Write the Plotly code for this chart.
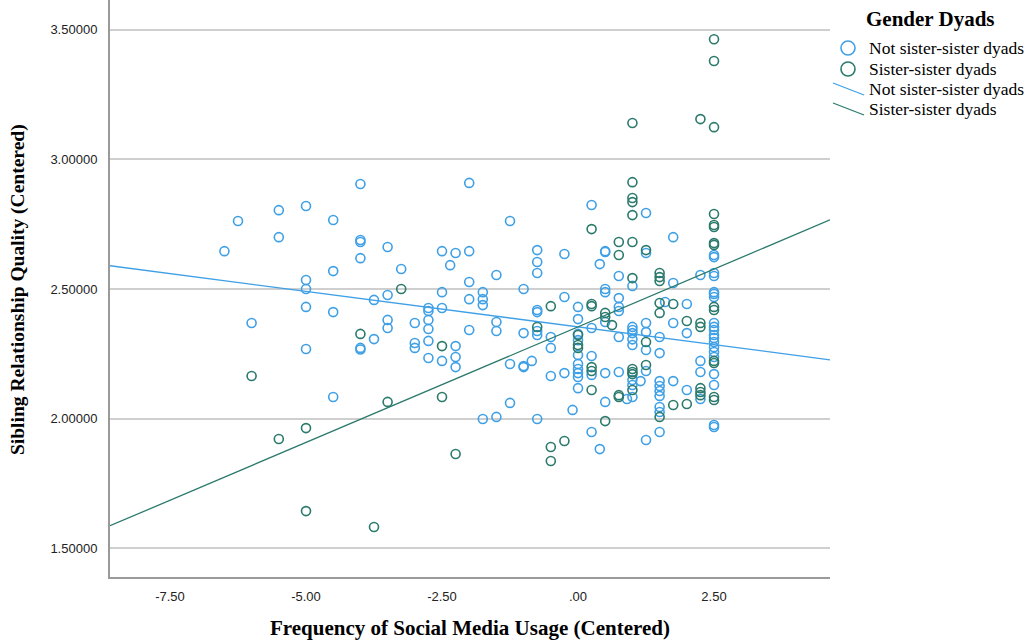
import plotly.graph_objects as go
import numpy as np

# ---- data ----
blue_cols = [-6.5, -6.25, -6, -5.5, -5, -4.5, -4, -3.75, -3.5, -3.25, -3, -2.75, -2.5, -2.35, -2.25,
             -2, -1.75, -1.5, -1.25, -1, -0.85, -0.75, -0.5, -0.25, -0.1, 0, 0.25, 0.4, 0.5, 0.75,
             0.9, 1, 1.15, 1.25, 1.5, 1.6, 1.75, 2, 2.25, 2.5]
blue_vals = [
    [2.646], [2.762], [2.369], [2.804, 2.700], [2.820, 2.535, 2.500, 2.431, 2.269],
    [2.766, 2.569, 2.411, 2.084], [2.905, 2.689, 2.681, 2.619, 2.273, 2.267], [2.458, 2.307],
    [2.662, 2.477, 2.381, 2.350], [2.577], [2.369, 2.292, 2.273],
    [2.427, 2.415, 2.381, 2.346, 2.300, 2.234], [2.646, 2.488, 2.427, 2.223], [2.592],
    [2.639, 2.280, 2.238, 2.199], [2.909, 2.646, 2.527, 2.461, 2.342], [2.488, 2.461, 2.438, 1.999],
    [2.554, 2.373, 2.338, 2.007], [2.762, 2.211, 2.061], [2.500, 2.330, 2.203, 2.199], [2.223],
    [2.650, 2.604, 2.562, 2.419, 2.411, 2.338, 2.323, 1.999], [2.315, 2.273, 2.165],
    [2.635, 2.469, 2.176], [2.034],
    [2.431, 2.384, 2.327, 2.303, 2.246, 2.211, 2.192, 2.176, 2.161, 2.118],
    [2.824, 2.350, 2.242, 2.169, 1.949], [2.596, 1.883],
    [2.646, 2.643, 2.500, 2.488, 2.373, 2.176, 2.065], [2.550, 2.465, 2.431, 2.415, 2.315, 2.180],
    [2.076], [2.512, 2.354, 2.342, 2.330, 2.306, 2.284, 2.149, 2.130, 2.084], [2.145],
    [2.793, 2.639, 2.369, 2.334, 2.265, 2.184, 1.918],
    [2.315, 2.253, 2.145, 2.126, 2.107, 2.088, 2.045, 2.026, 1.949], [2.450],
    [2.700, 2.523, 2.369, 2.145], [2.442, 2.330, 2.111], [2.554, 2.223, 2.180, 2.076],
    [2.631, 2.623, 2.562, 2.550, 2.488, 2.481, 2.469, 2.369, 2.354, 2.342, 2.323, 2.311,
     2.296, 2.276, 2.257, 2.238, 2.172, 2.130, 1.976, 1.968],
]
teal_cols = [-6, -5.5, -5, -4, -3.75, -3.5, -3.25, -2.5, -2.25, -0.75, -0.5, -0.25, 0, 0.25, 0.5,
             0.625, 0.75, 1, 1.25, 1.5, 1.75, 2, 2.25, 2.5]
teal_vals = [
    [2.165], [1.922], [1.964, 1.644], [2.327], [1.583], [2.065], [2.500], [2.280, 2.084], [1.864],
    [2.354], [2.434, 1.891, 1.837], [1.914], [2.323, 2.284, 2.273],
    [2.731, 2.442, 2.434, 2.199, 2.184, 2.111], [2.408, 2.392, 1.991], [2.361],
    [2.681, 2.631, 2.091, 2.084],
    [3.140, 2.912, 2.851, 2.835, 2.785, 2.681, 2.542, 2.192, 2.180, 2.172, 2.111],
    [2.650, 2.296, 2.207], [2.562, 2.546, 2.531, 2.446, 2.408, 2.007], [2.442, 2.053],
    [2.377, 2.057], [3.155, 2.369, 2.354, 2.118, 2.103, 2.091],
    [3.463, 3.379, 3.124, 2.789, 2.747, 2.739, 2.677, 2.670, 2.431, 2.419, 2.223, 2.215, 2.084, 2.072],
]
group_names = ["Not sister-sister dyads", "Sister-sister dyads"]
fit_intercepts = [2.354, 2.354]
fit_slopes = [-0.0274, 0.0891]

x_tickvals = [-7.5, -5.0, -2.5, 0.0, 2.5]
x_ticktext = ["-7.50", "-5.00", "-2.50", ".00", "2.50"]
y_tickvals = [1.5, 2.0, 2.5, 3.0, 3.5]
y_ticktext = ["1.50000", "2.00000", "2.50000", "3.00000", "3.50000"]

# ---- styling ----
BLUE = "#3fa0e6"
TEAL = "#2b7a6c"
colors = [BLUE, TEAL]
x_range = [-8.603, 4.632]
y_range = [1.390, 3.614]
W, H = 1030, 644
L, R, T, B = 110, 200, 0, 67


def flat(cols, vals):
    xs = [c for c, vs in zip(cols, vals) for _ in vs]
    ys = [v for vs in vals for v in vs]
    return xs, ys


fig = go.Figure()
for (cols, vals), name, col in zip([(blue_cols, blue_vals), (teal_cols, teal_vals)], group_names, colors):
    xs, ys = flat(cols, vals)
    fig.add_trace(go.Scatter(x=xs, y=ys, mode="markers", name=name, showlegend=False,
                             marker=dict(symbol="circle-open", size=9, color=col,
                                         line=dict(width=1.6, color=col))))

xl = np.array(x_range)
for a, b, name, col in zip(fit_intercepts, fit_slopes, group_names, colors):
    fig.add_trace(go.Scatter(x=xl, y=a + b * xl, mode="lines", name=name, showlegend=False,
                             line=dict(color=col, width=1.3)))

pw = W - L - R
ph = H - T - B


def px(x):
    return (x - L) / pw


def py(y):
    return 1 - (y - T) / ph


shapes = []
annotations = []
# legend
annotations.append(dict(x=px(930), y=py(19), xref="paper", yref="paper", text="<b>Gender Dyads</b>",
                        showarrow=False, xanchor="center", yanchor="middle",
                        font=dict(family="Liberation Serif", size=21, color="black")))
leg_text_y = [48, 69, 89, 109]
for i, (name, col) in enumerate(zip(group_names, colors)):
    cy = leg_text_y[i]
    shapes.append(dict(type="circle", xref="paper", yref="paper",
                       x0=px(848 - 7), x1=px(848 + 7), y0=py(cy + 7), y1=py(cy - 7),
                       line=dict(color=col, width=1.6)))
    annotations.append(dict(x=px(867), y=py(cy), xref="paper", yref="paper", text=name,
                            showarrow=False, xanchor="left", yanchor="middle",
                            font=dict(family="Liberation Serif", size=17.5, color="black")))
for i, (name, col) in enumerate(zip(group_names, colors)):
    cy = leg_text_y[2 + i]
    shapes.append(dict(type="line", xref="paper", yref="paper",
                       x0=px(833), y0=py(cy - 6), x1=px(864), y1=py(cy + 6),
                       line=dict(color=col, width=1.3)))
    annotations.append(dict(x=px(867), y=py(cy), xref="paper", yref="paper", text=name,
                            showarrow=False, xanchor="left", yanchor="middle",
                            font=dict(family="Liberation Serif", size=17.5, color="black")))

# axis titles
annotations.append(dict(x=px(470), y=py(628), xref="paper", yref="paper",
                        text="<b>Frequency of Social Media Usage (Centered)</b>", showarrow=False,
                        xanchor="center", yanchor="middle",
                        font=dict(family="Liberation Serif", size=21, color="black")))
annotations.append(dict(x=px(18), y=py(290), xref="paper", yref="paper",
                        text="<b>Sibling Relationship Quality (Centered)</b>", showarrow=False,
                        xanchor="center", yanchor="middle", textangle=-90,
                        font=dict(family="Liberation Serif", size=19.5, color="black")))

fig.update_layout(
    width=W, height=H, margin=dict(l=L, r=R, t=T, b=B),
    paper_bgcolor="white", plot_bgcolor="white",
    shapes=shapes, annotations=annotations, showlegend=False,
    xaxis=dict(range=x_range, tickvals=x_tickvals, ticktext=x_ticktext, showgrid=False,
               zeroline=False, showline=True, linecolor="#9a9a9a", linewidth=2, ticks="",
               tickfont=dict(family="Liberation Sans", size=13, color="#222"),
               ticklabelstandoff=6, automargin=False),
    yaxis=dict(range=y_range, tickvals=y_tickvals, ticktext=y_ticktext, showgrid=True,
               gridcolor="#cfcfcf", gridwidth=1.5, zeroline=False, showline=True,
               linecolor="#9a9a9a", linewidth=2, ticks="",
               tickfont=dict(family="Liberation Sans", size=13, color="#222"),
               ticklabelstandoff=8, automargin=False),
)

fig.write_html("out.html", config={"displayModeBar": False},
               post_script="document.body.style.margin='0';document.body.style.padding='0';")
